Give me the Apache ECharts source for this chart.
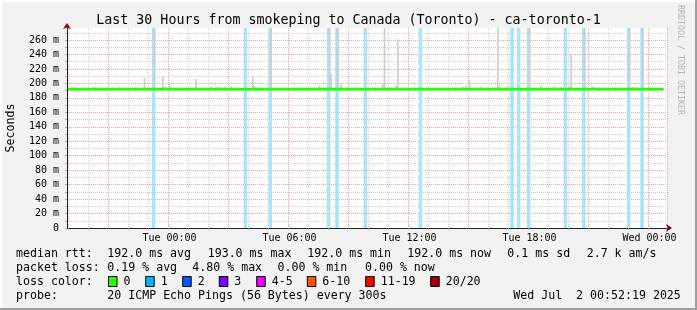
<!DOCTYPE html>
<html><head><meta charset="utf-8">
<script src="https://cdn.jsdelivr.net/npm/echarts@6/dist/echarts.min.js"></script>
<style>html,body{margin:0;padding:0;background:#f2f2f2}#c{width:697px;height:310px}</style>
</head><body><div id="c"></div>
<script>
// ---------------- data ----------------
const TITLE = 'Last 30 Hours from smokeping to Canada (Toronto) - ca-toronto-1';
const START_DAY = 0;            // index into dayNames (Mon)
const START_MIN = 18 * 60 + 55; // first 5-minute step: Mon 18:55
const STEP_MIN = 5;
const STEPS = 360;              // 30 hours of 5-minute steps
const dayNames = ['Mon', 'Tue', 'Wed'];
const xLabelTimes = ['Tue 00:00', 'Tue 06:00', 'Tue 12:00', 'Tue 18:00', 'Wed 00:00'];
const Y_MAX = 276.6;            // ms, top of the plot
const yTickStep = 10;           // minor grid (ms)
const yLabelStep = 20;          // labelled / major grid (ms)

// median rtt (ms) as runs: [fromStep, toStep, value]
const medianRuns = [[0, 57, 192], [58, 58, 193], [59, 314, 192], [315, 315, 193], [316, 357, 192]];
// steps with packet loss (1 of 20 lost)
const lossSteps = [51, 52, 106, 107, 121, 122, 156, 157, 161, 162, 178, 179, 211, 212,
                   266, 267, 270, 271, 276, 277, 298, 299, 309, 310, 336, 337, 344, 345];
// smoke: highest ping per step (ms), only where it rises visibly above the median
const smokeSteps = [16, 31, 41, 46, 52, 57, 61, 77, 86, 90, 94, 98, 111, 112, 122,
                    151, 157, 158, 162, 164, 189, 190, 197, 198, 237, 239, 241, 248,
                    258, 259, 264, 277, 284, 292, 296, 301, 302, 310, 337, 339, 341, 345, 349];
const smokeMax   = [195, 195, 194, 208, 290, 210, 199, 206, 195, 195, 195, 195, 210, 197, 290,
                    197, 290, 213, 290, 199, 199, 290, 197, 261, 195, 197, 205, 195,
                    290, 197, 195, 290, 197, 196, 195, 196, 241, 290, 290, 195, 195, 290, 195];

const lossLegend = [['0', '#26ff00'], ['1', '#00b8ff'], ['2', '#0059ff'], ['3', '#7e00ff'],
                    ['4-5', '#ee00ff'], ['6-10', '#ff5500'], ['11-19', '#ff0000'], ['20/20', '#a10000']];

// ---------------- build ----------------
const pad = n => (n < 10 ? '0' : '') + n;
const cats = [];
for (let k = 0; k < STEPS; k++) {
  const t = START_MIN + k * STEP_MIN;
  const d = START_DAY + Math.floor(t / 1440);
  const m = t % 1440;
  cats.push(dayNames[d] + ' ' + pad(Math.floor(m / 60)) + ':' + pad(m % 60));
}
const median = new Array(STEPS).fill(null);
medianRuns.forEach(([a, b, v]) => { for (let k = a; k <= b; k++) median[k] = v; });
const lossBar = new Array(STEPS).fill(null);
lossSteps.forEach(k => { lossBar[k] = Y_MAX; });
const smokeBase = new Array(STEPS).fill(null);
const smokeTop = new Array(STEPS).fill(null);
smokeSteps.forEach((k, i) => { smokeBase[k] = median[k]; smokeTop[k] = smokeMax[i] - median[k]; });
const lossSeg = lossSteps.map(k => [k, median[k]]);

const hourOf = (i) => parseInt(cats[i].slice(4, 6), 10);
const isHour = (i) => cats[i].endsWith(':00');
const is3Hour = (i) => isHour(i) && hourOf(i) % 3 === 0;
const isLabel = (i) => xLabelTimes.indexOf(cats[i]) >= 0;

const MONO = 'DejaVu Sans Mono';
const RED = '#f2a0a0', GRAY = '#d0d0d0', ARROW = '#8b0000';
const GREEN = '#26ff00', LOSS_LINE = '#0aa2f5', LOSS_BG = '#a4e2fa', SMOKE = '#cdcdcd';

// legend text elements
const LX = 16, VX = 107.3, FS = 11.6;
const rows = [254, 268, 282, 296];
const txt = (s, x, y, extra) => Object.assign({ type: 'text', x: x, y: y,
  style: { text: s, font: FS + 'px "' + MONO + '"', fill: '#000', verticalAlign: 'middle', align: 'left' } }, extra || {});
const graphics = [
  { type: 'rect', shape: { x: 0, y: 0, width: 697, height: 2 }, style: { fill: '#ffffff' } },
  { type: 'rect', shape: { x: 0, y: 0, width: 2, height: 310 }, style: { fill: '#ffffff' } },
  { type: 'rect', shape: { x: 0, y: 308, width: 697, height: 2 }, style: { fill: '#9e9e9e' } },
  { type: 'rect', shape: { x: 695, y: 0, width: 2, height: 310 }, style: { fill: '#9e9e9e' } },
  txt('median rtt:', LX, rows[0]),
  txt('192.0 ms avg', VX, rows[0]), txt('193.0 ms max', 207.7, rows[0]), txt('192.0 ms min', 307.3, rows[0]),
  txt('192.0 ms now', 407.3, rows[0]), txt('0.1 ms sd', 507.3, rows[0]), txt('2.7 k am/s', 586.7, rows[0]),
  txt('packet loss:', LX, rows[1]),
  txt('0.19 % avg', VX, rows[1]), txt('4.80 % max', 192.3, rows[1]), txt('0.00 % min', 277.5, rows[1]),
  txt('0.00 % now', 365, rows[1]),
  txt('loss color:', LX, rows[2]),
  txt('probe:', LX, rows[3]),
  txt('20 ICMP Echo Pings (56 Bytes) every 300s', VX, rows[3]),
  txt('Wed Jul  2 00:52:19 2025', 513.3, rows[3]),
  { type: 'text', x: 684, y: 5, rotation: -Math.PI / 2,
    style: { text: 'RRDTOOL / TOBI OETIKER', font: '8.3px "' + MONO + '"', fill: '#b4b4b4', align: 'left', verticalAlign: 'top' } }
];
const boxX = [108.5, 145.7, 182.7, 219.3, 256.7, 307.3, 365.7, 430.7];
lossLegend.forEach(([lab, col], i) => {
  graphics.push({ type: 'rect', shape: { x: boxX[i], y: 276.5, width: 8.5, height: 10 },
    style: { fill: col, stroke: '#000', lineWidth: 1 } });
  graphics.push(txt(lab, boxX[i] + 15, rows[2]));
});

const chart = echarts.init(document.getElementById('c'), null, { renderer: 'canvas' });
const dotted = (c) => ({ color: c, type: [1, 1], width: 1 });
const arrowLine = { show: true, lineStyle: { color: ARROW, width: 0 }, symbol: ['none', 'arrow'], symbolSize: [6, 6], symbolOffset: [0, 5] };
chart.setOption({
  backgroundColor: '#f2f2f2',
  animation: false,
  title: { text: TITLE, left: 'center', top: 9,
    textStyle: { fontFamily: MONO, fontSize: 13.3, fontWeight: 'normal', color: '#000' } },
  grid: { left: 67, top: 28, width: 600, height: 200, show: true, backgroundColor: '#ffffff', borderWidth: 0,
          outerBoundsMode: 'none', containLabel: false },
  xAxis: [{
    type: 'category', data: cats, boundaryGap: true, position: 'bottom',
    axisLine: { lineStyle: { color: '#222', width: 1 } },
    axisTick: { show: true, interval: isHour, length: 2, lineStyle: { color: '#aaa' } },
    axisLabel: { interval: isLabel, margin: 5, fontFamily: MONO, fontSize: 10, color: '#000' },
    splitLine: { show: true, interval: isHour, lineStyle: dotted(GRAY) }
  }, {
    type: 'category', data: cats, boundaryGap: true, position: 'top',
    axisLine: { show: false }, axisTick: { show: false }, axisLabel: { show: false },
    splitLine: { show: true, interval: is3Hour, lineStyle: dotted(RED) }
  }, {
    type: 'category', data: cats, boundaryGap: true, position: 'bottom',
    axisLine: arrowLine, axisTick: { show: false }, axisLabel: { show: false }, splitLine: { show: false }
  }],
  yAxis: [{
    type: 'value', min: 0, max: Y_MAX, interval: yTickStep, position: 'left',
    name: 'Seconds', nameLocation: 'middle', nameGap: 50, nameRotate: 90,
    nameTextStyle: { fontFamily: MONO, fontSize: 11.6, color: '#000' },
    axisLine: { show: true, lineStyle: { color: '#222', width: 1 } },
    axisTick: { show: true, length: 2, lineStyle: { color: '#aaa' } },
    axisLabel: { margin: 8, fontFamily: MONO, fontSize: 10, color: '#000', showMaxLabel: false,
      formatter: v => (Math.abs(v % yLabelStep) < 1e-9 ? (v === 0 ? '0' : v + ' m') : '') },
    splitLine: { show: true, showMaxLine: false, showMinLine: false, lineStyle: dotted(GRAY) }
  }, {
    type: 'value', min: 0, max: Y_MAX, interval: yLabelStep, position: 'right',
    axisLine: { show: false }, axisTick: { show: false }, axisLabel: { show: false },
    splitLine: { show: true, showMaxLine: false, showMinLine: false, lineStyle: dotted(RED) }
  }, {
    type: 'value', min: 0, max: Y_MAX, position: 'left',
    axisLine: arrowLine, axisTick: { show: false }, axisLabel: { show: false }, splitLine: { show: false }
  }],
  graphic: graphics,
  series: [
    { type: 'bar', data: lossBar, barCategoryGap: '0%', barGap: '-100%', itemStyle: { color: LOSS_BG }, silent: true },
    { type: 'bar', stack: 'smoke', data: smokeBase, barCategoryGap: '0%', barGap: '-100%', itemStyle: { color: 'transparent' }, silent: true },
    { type: 'bar', stack: 'smoke', data: smokeTop, itemStyle: { color: SMOKE }, silent: true },
    { type: 'line', data: median, step: 'middle', showSymbol: false, lineStyle: { color: GREEN, width: 2.6 }, silent: true },
    { type: 'custom', data: lossSeg, silent: true,
      renderItem: (params, api) => {
        const p = api.coord([api.value(0), api.value(1)]);
        const w = api.size([1, 0])[0];
        return { type: 'rect', shape: { x: p[0] - w / 2, y: p[1] - 1.3, width: w, height: 2.6 }, style: { fill: LOSS_LINE } };
      } }
  ]
});
</script></body></html>
